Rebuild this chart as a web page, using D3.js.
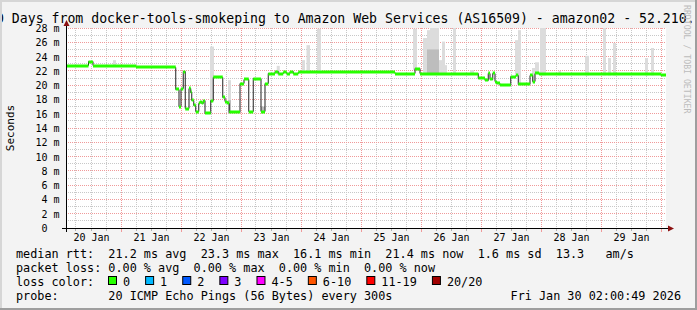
<!DOCTYPE html>
<html>
<head>
<meta charset="utf-8">
<script src="https://cdn.jsdelivr.net/npm/d3@7"></script>
<style>
  html, body { margin: 0; padding: 0; background: #f3f3f3; }
  svg { display: block; }
  text { font-family: "DejaVu Sans Mono", monospace; white-space: pre; }
</style>
</head>
<body>
<svg id="chart" width="697" height="310"></svg>
<script>
// ---- data (hours counted from 20 Jan 00:00) ----
var titleText = "10 Days from docker-tools-smokeping to Amazon Web Services (AS16509) - amazon02 - 52.210.";
var dayLabels = ["20 Jan", "21 Jan", "22 Jan", "23 Jan", "24 Jan", "25 Jan", "26 Jan", "27 Jan", "28 Jan", "29 Jan"];
var yTickValues = [0, 2, 4, 6, 8, 10, 12, 14, 16, 18, 20, 22, 24, 26, 28];

// median rtt (ms), step series: value holds until the next hour mark
var medHours = [2, 11.0, 12.8, 30, 40.8, 45.9, 47.2, 48.0, 48.9, 49.7, 51.2, 51.9, 52.3, 53.1, 53.9,
    55.1, 55.6, 56.3, 56.9, 57.6, 59.9, 60.9, 64.7, 65.6, 66.5, 67.3, 71.6, 73.2, 75.1, 76.9,
    80.0, 81.6, 82.9, 85.6, 86.9, 88.9, 90.3, 91.6, 92.9, 94.9, 133.6, 141.6, 143.6, 166.9,
    169.6, 170.9, 171.6, 172.7, 173.6, 174.3, 175.6, 179.9, 182.0, 182.9, 187.6, 188.7, 189.6,
    191.3, 240];
var medValues = [22.7, 23.3, 22.7, 22.6, 22.5, 19.4, 17.0, 19.5, 21.9, 16.7, 19.6, 19.0, 17.9, 17.2, 16.3,
    17.5, 17.7, 17.5, 17.8, 16.1, 17.8, 21.1, 18.3, 17.7, 17.5, 16.2, 20.2, 20.8, 16.3, 20.9,
    16.3, 20.2, 21.6, 21.9, 21.6, 21.8, 21.6, 21.9, 21.6, 21.8, 21.6, 22.3, 21.6, 21.0,
    20.7, 21.7, 20.8, 21.7, 20.5, 20.3, 20.0, 21.2, 21.4, 20.1, 21.4, 20.5, 21.7,
    21.5, 21.4];

// light smoke: spread of the pings above the median
var smokeFrom = [20.8, 59.6, 66.8, 86.3, 96.3, 98.2, 102.4, 140.8, 144.8, 146.4, 147.6, 151.2, 152.4, 153.6,
    156.8, 163.6, 181.6, 182.8, 188.4, 189.6, 191.6, 199.0, 209.6, 216.8, 218.8, 220.8, 233.6, 236.0];
var smokeTo = [22.0, 61.2, 68.0, 87.5, 97.6, 99.6, 104.0, 142.4, 146.4, 147.6, 151.2, 152.4, 153.6, 154.4,
    158.0, 165.2, 182.8, 184.0, 189.6, 191.2, 194.0, 200.0, 211.2, 218.0, 220.0, 222.0, 234.8, 237.2];
var smokeTop = [23.5, 25.4, 20.7, 22.7, 23.5, 25.6, 27.9, 27.9, 26.6, 27.7, 28.5, 23.5, 26.1, 22.8,
    28.5, 22.1, 26.3, 27.7, 22.4, 23.2, 28.5, 22.0, 24.1, 28.5, 23.8, 25.9, 23.8, 25.2];
// darker smoke core
var coreFrom = [66.8, 80.0, 146.4];
var coreTo = [68.0, 81.6, 151.2];
var coreTop = [17.9, 17.0, 25.0];

var rttNames = ["avg", "max", "min", "now", "sd"];
var rttValues = [21.2, 23.3, 16.1, 21.4, 1.6];
var amS = 13.3;
var lossNames = ["avg", "max", "min", "now"];
var lossValues = [0, 0, 0, 0];
var lossLabels = ["0", "1", "2", "3", "4-5", "6-10", "11-19", "20/20"];
var lossColors = ["#26ff00", "#00b8ff", "#0059ff", "#7e00ff", "#ff00ff", "#ff5500", "#ff0000", "#a00000"];
var probeText = "20 ICMP Echo Pings (56 Bytes) every 300s";
var stampText = "Fri Jan 30 02:00:49 2026";

// ---- layout ----
var W = 697, H = 310;
var plot = {left: 66, right: 666, top: 28, bottom: 228};
var t0 = Date.UTC(2026, 0, 20);
function hr(h) { return new Date(t0 + h * 3600000); }

var x = d3.scaleUtc().domain([hr(2), hr(242)]).range([plot.left, plot.right]);
var y = d3.scaleLinear().domain([0, 28]).range([plot.bottom, plot.top]);

var svg = d3.select("#chart").attr("xml:space", "preserve");

// frame
svg.append("rect").attr("width", W).attr("height", H).attr("fill", "#f3f3f3");
svg.append("rect").attr("x", plot.left).attr("y", plot.top)
    .attr("width", plot.right - plot.left).attr("height", plot.bottom - plot.top)
    .attr("fill", "#ffffff");

svg.append("defs").append("clipPath").attr("id", "clip")
  .append("rect").attr("x", plot.left).attr("y", plot.top)
    .attr("width", plot.right - plot.left).attr("height", plot.bottom - plot.top);

// grid
var grid = svg.append("g");
var crisp = function (v) { return Math.floor(v) + 0.5; };
var yMinor = d3.range(1, 28, 2);
grid.selectAll(".hminor").data(yMinor).enter().append("line")
    .attr("x1", plot.left).attr("x2", plot.right)
    .attr("y1", function (d) { return crisp(y(d)); }).attr("y2", function (d) { return crisp(y(d)); })
    .attr("stroke", "#c8c8c8").attr("stroke-dasharray", "1,1");
var xMinor = x.ticks(d3.utcHour.every(6)).filter(function (t) { return t.getUTCHours() !== 0; });
var xMajor = x.ticks(d3.utcDay.every(1));
grid.selectAll(".vminor").data(xMinor).enter().append("line")
    .attr("y1", plot.top).attr("y2", plot.bottom)
    .attr("x1", function (d) { return crisp(x(d)); }).attr("x2", function (d) { return crisp(x(d)); })
    .attr("stroke", "#c8c8c8").attr("stroke-dasharray", "1,1");
grid.selectAll(".hmajor").data(yTickValues.slice(1)).enter().append("line")
    .attr("x1", plot.left).attr("x2", plot.right)
    .attr("y1", function (d) { return crisp(y(d)); }).attr("y2", function (d) { return crisp(y(d)); })
    .attr("stroke", "#f09a9a").attr("stroke-dasharray", "1,1");
grid.selectAll(".vmajor").data(xMajor).enter().append("line")
    .attr("y1", plot.top).attr("y2", plot.bottom)
    .attr("x1", function (d) { return crisp(x(d)); }).attr("x2", function (d) { return crisp(x(d)); })
    .attr("stroke", "#f09a9a").attr("stroke-dasharray", "1,1");

// data
var medPts = medHours.map(function (h, i) { return {t: hr(h), v: medValues[i]}; });
medPts.push({t: hr(242), v: medValues[medValues.length - 1]});
var bis = d3.bisector(function (d) { return d; }).right;
function medianAt(h) { return medValues[Math.max(0, bis(medHours, h) - 1)]; }

var g = svg.append("g").attr("clip-path", "url(#clip)");

function smoke(from, to, top, color) {
  g.append("g").selectAll("rect").data(from).enter().append("rect")
      .attr("x", function (d) { return x(hr(d)); })
      .attr("width", function (d, i) { return x(hr(to[i])) - x(hr(d)); })
      .attr("y", function (d, i) { return y(top[i]); })
      .attr("height", function (d, i) {
        var mid = (d + to[i]) / 2;
        return Math.max(0, y(medianAt(mid)) + 1 - y(top[i]));
      })
      .attr("fill", color);
}
smoke(smokeFrom, smokeTo, smokeTop, "#dcdcdc");
smoke(coreFrom, coreTo, coreTop, "#bdbdbd");

var line = d3.line().curve(d3.curveStepAfter)
    .x(function (d) { return x(d.t); })
    .y(function (d) { return crisp(y(d.v)); });
g.append("path").datum(medPts).attr("d", line)
    .attr("fill", "none").attr("stroke", "#202020").attr("stroke-width", 1);

var band = d3.area().curve(d3.curveStepAfter)
    .x(function (d) { return x(d.t); })
    .y0(function (d) { return Math.round(y(d.v)) + 1.5; })
    .y1(function (d) { return Math.round(y(d.v)) - 1.5; });
g.append("path").datum(medPts).attr("d", band).attr("fill", lossColors[0]);

// axes labels
var noon = dayLabels.map(function (d, i) { return hr(i * 24 + 12); });
var xAxis = d3.axisBottom(x).tickValues(noon).tickSize(0).tickPadding(6)
    .tickFormat(function (d, i) { return dayLabels[i]; });
var gx = svg.append("g").attr("transform", "translate(0," + plot.bottom + ")").call(xAxis);
gx.select(".domain").remove();
gx.selectAll("text").attr("font-family", "DejaVu Sans Mono").attr("font-size", "10px").attr("fill", "#000");

var yAxis = d3.axisLeft(y).tickValues(yTickValues).tickSize(0).tickPadding(6.5)
    .tickFormat(function (d) { return d === 0 ? "0  " : d + " m"; });
var gy = svg.append("g").attr("transform", "translate(" + plot.left + ",0)").call(yAxis);
gy.select(".domain").remove();
gy.selectAll("text").attr("font-family", "DejaVu Sans Mono").attr("font-size", "10px")
    .attr("fill", "#000").attr("dy", "0.35em");

// axis ticks
svg.append("g").selectAll("line").data(xMinor).enter().append("line")
    .attr("x1", function (d) { return crisp(x(d)); }).attr("x2", function (d) { return crisp(x(d)); })
    .attr("y1", plot.bottom + 1).attr("y2", plot.bottom + 3).attr("stroke", "#b0b0b0");
svg.append("g").selectAll("line").data(xMajor).enter().append("line")
    .attr("x1", function (d) { return crisp(x(d)); }).attr("x2", function (d) { return crisp(x(d)); })
    .attr("y1", plot.bottom + 1).attr("y2", plot.bottom + 4).attr("stroke", "#f09a9a");

// axis lines with arrows
svg.append("line").attr("x1", plot.left - 4).attr("x2", plot.right + 5)
    .attr("y1", plot.bottom + 0.5).attr("y2", plot.bottom + 0.5).attr("stroke", "#000");
svg.append("line").attr("x1", plot.left + 0.5).attr("x2", plot.left + 0.5)
    .attr("y1", plot.bottom + 4).attr("y2", plot.top - 3).attr("stroke", "#000");
svg.append("path").attr("d", "M" + (plot.right + 2) + "," + (plot.bottom - 2.5) + "L" + (plot.right + 8) + "," + (plot.bottom + 0.5) +
    "L" + (plot.right + 2) + "," + (plot.bottom + 3.5) + "Z").attr("fill", "#8b1010");
svg.append("path").attr("d", "M" + (plot.left - 2.5) + "," + (plot.top - 2) + "L" + (plot.left + 0.5) + "," + (plot.top - 8) +
    "L" + (plot.left + 3.5) + "," + (plot.top - 2) + "Z").attr("fill", "#8b1010");

// title and side labels
svg.append("text").attr("x", -12).attr("y", 23).attr("font-size", "13.2px").attr("fill", "#000").text(titleText);
svg.append("text").attr("transform", "translate(14,128) rotate(-90)").attr("text-anchor", "middle")
    .attr("font-size", "11px").attr("fill", "#000").text("Seconds");
svg.append("text").attr("transform", "translate(684,5) rotate(90)")
    .attr("font-size", "8.2px").attr("fill", "#bcbcbc").text("RRDTOOL / TOBI OETIKER");

// legend
var lx = 16, fs = "11.8px", cw = 7.12;
var row1 = "median rtt:  " + rttValues.map(function (v, i) { return v.toFixed(1) + " ms " + rttNames[i]; }).join("  ") +
    "  " + amS.toFixed(1) + "   am/s";
var row2 = "packet loss: " + lossValues.map(function (v, i) { return v.toFixed(2) + " % " + lossNames[i]; }).join("  ");
svg.append("text").attr("x", lx).attr("y", 258).attr("font-size", fs).text(row1);
svg.append("text").attr("x", lx).attr("y", 272).attr("font-size", fs).text(row2);
svg.append("text").attr("x", lx).attr("y", 286).attr("font-size", fs).text("loss color:");
var sx = 108;
lossLabels.forEach(function (lab, i) {
  svg.append("rect").attr("x", sx + 0.5).attr("y", 286 - 9.5).attr("width", 8).attr("height", 8)
      .attr("fill", lossColors[i]).attr("stroke", "#000").attr("stroke-width", 1);
  svg.append("text").attr("x", sx + 15).attr("y", 286).attr("font-size", fs).text(lab);
  sx += 30 + lab.length * cw;
});
svg.append("text").attr("x", lx).attr("y", 300).attr("font-size", fs).text("probe:       " + probeText);
svg.append("text").attr("x", 681).attr("y", 300).attr("font-size", fs).attr("text-anchor", "end").text(stampText);

// 3d border
svg.append("path").attr("d", "M0,0H" + W + "V2H2V" + H + "H0Z").attr("fill", "#d6d6d6");
svg.append("path").attr("d", "M" + W + "," + H + "H0V" + (H - 2) + "H" + (W - 2) + "V0H" + W + "Z").attr("fill", "#9e9e9e");
</script>
</body>
</html>
